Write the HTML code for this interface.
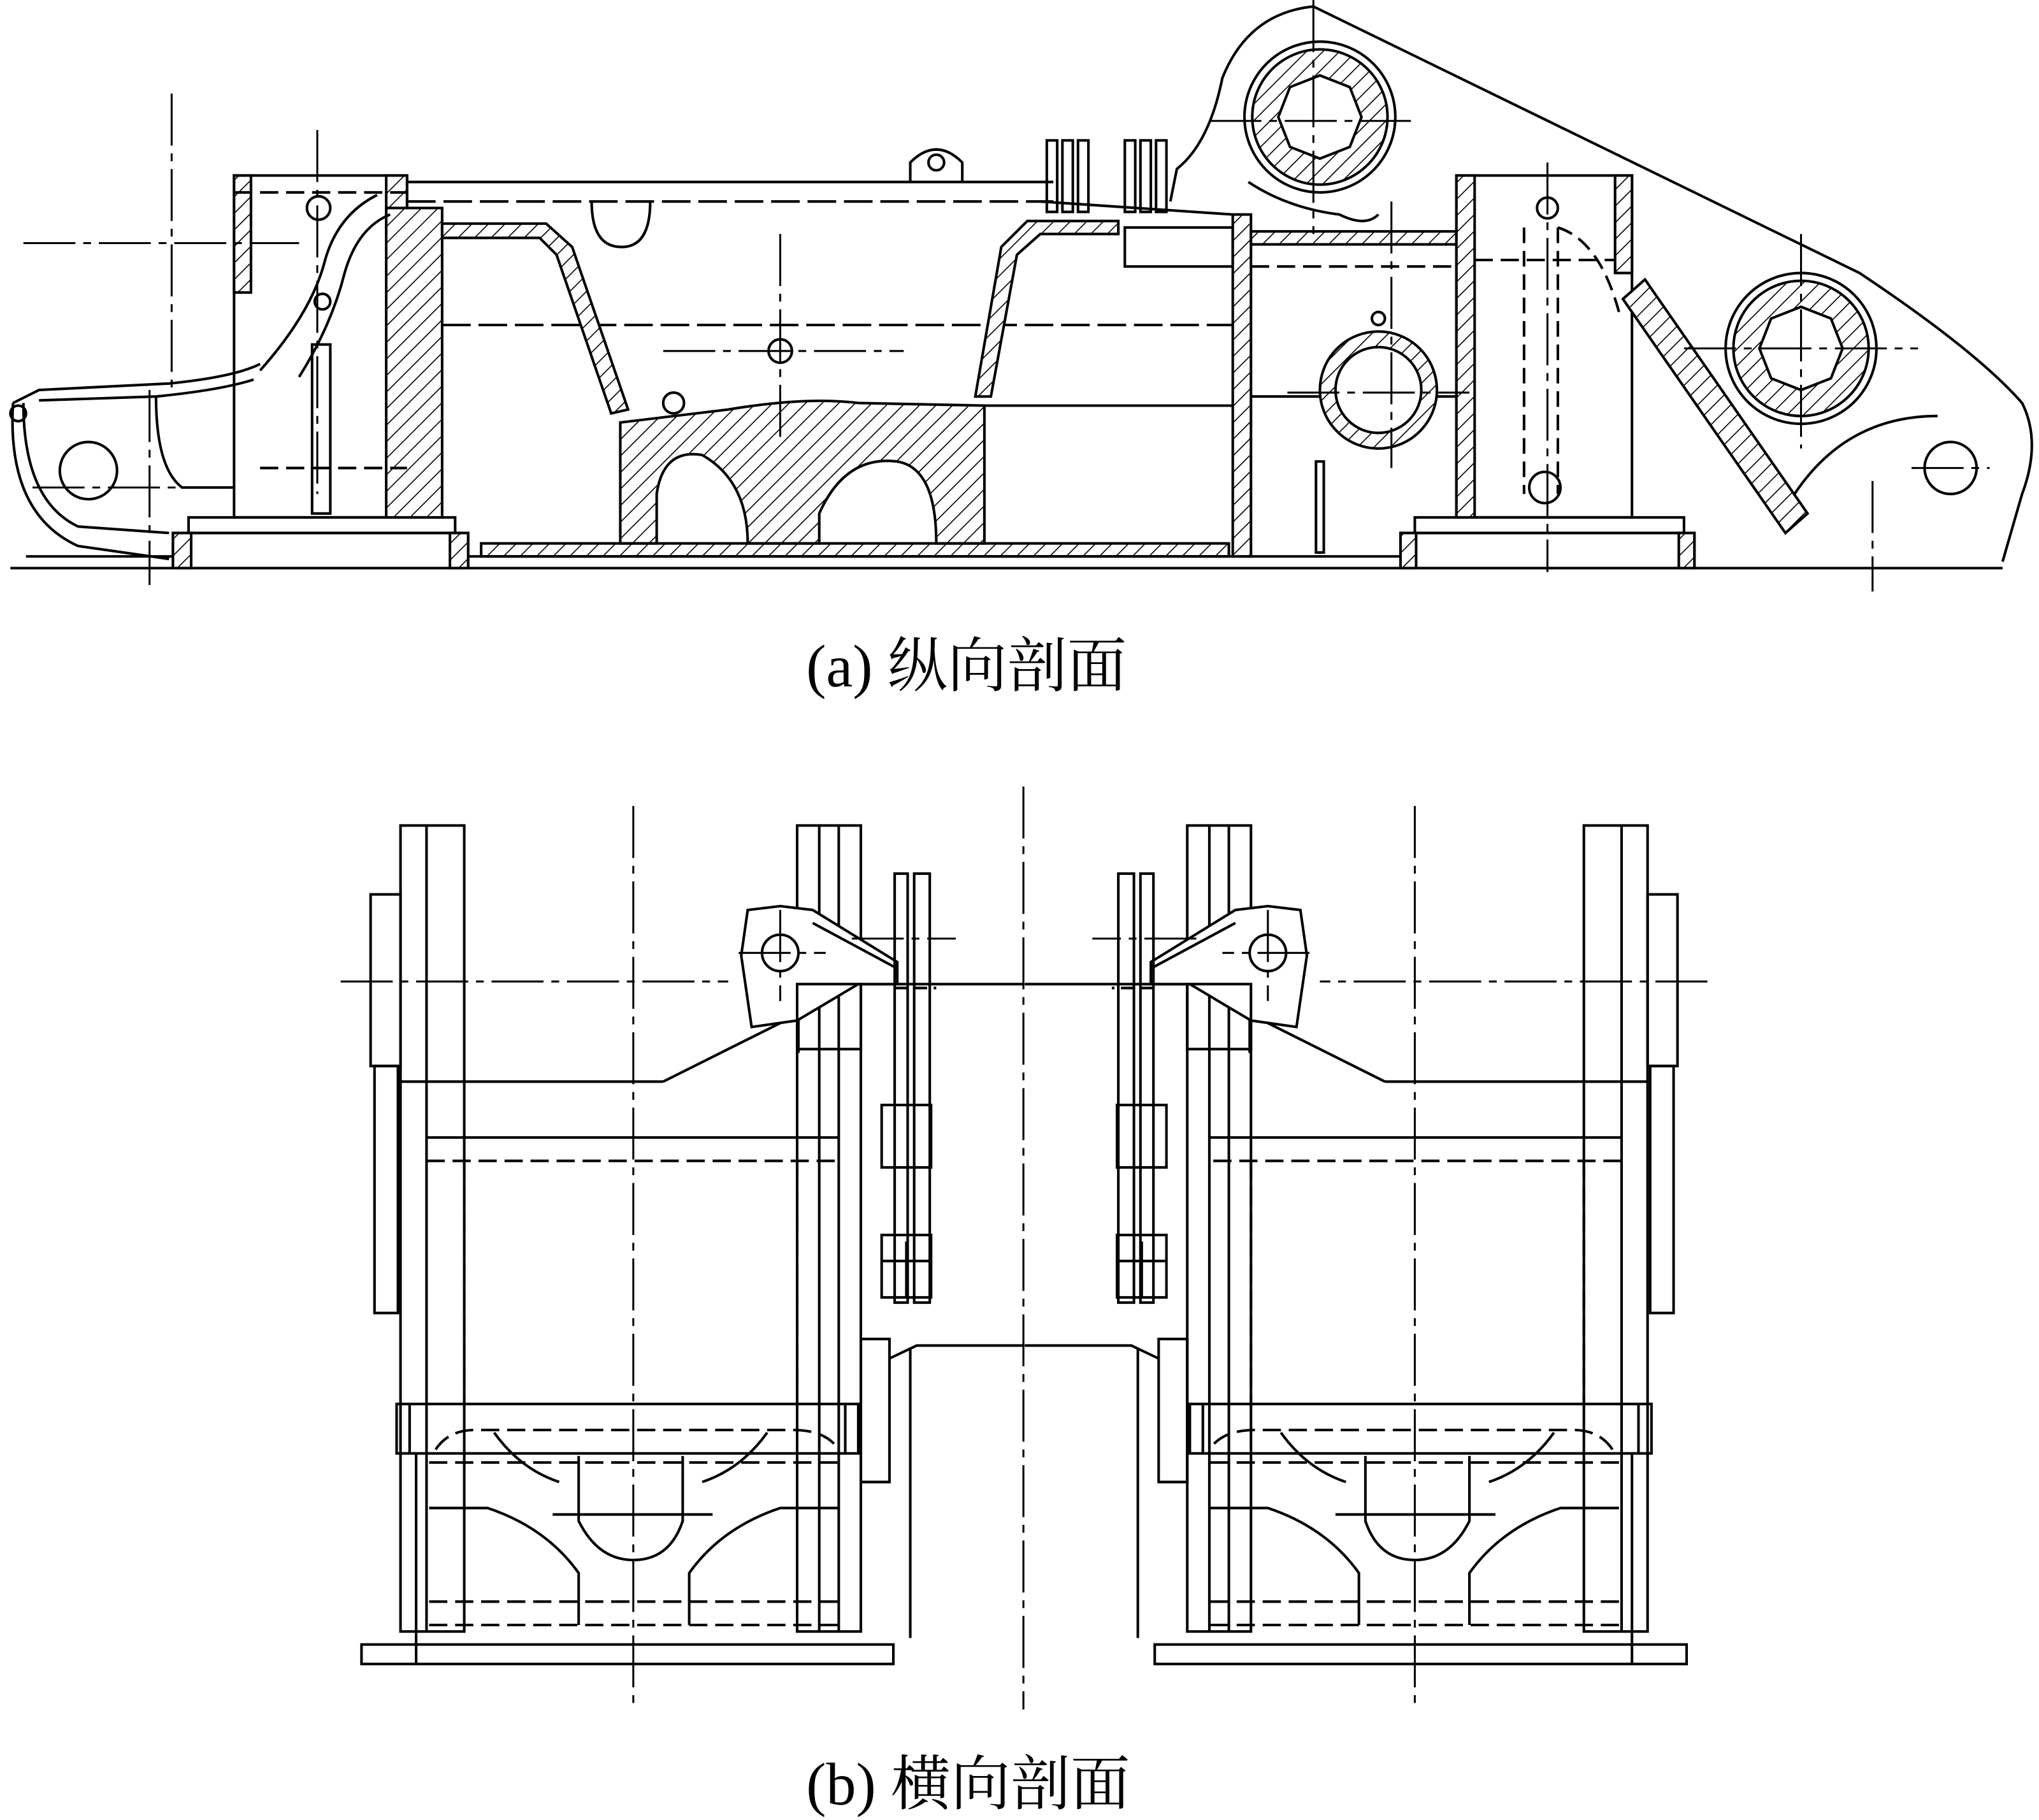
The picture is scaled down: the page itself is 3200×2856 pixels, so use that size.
<!DOCTYPE html>
<html><head><meta charset="utf-8">
<style>
html,body{margin:0;padding:0;background:#fff;}
svg{display:block;width:3200px;height:2856px;}
text{font-family:"Liberation Serif","Noto Serif CJK SC","Noto Sans CJK SC",serif;fill:#000;}
</style></head>
<body>
<svg viewBox="0 0 1568 1400" preserveAspectRatio="none" xmlns="http://www.w3.org/2000/svg">
<defs>
<pattern id="h" width="9" height="9" patternUnits="userSpaceOnUse" patternTransform="rotate(45)">
<rect width="9" height="9" fill="#fff"/><line x1="0" y1="0" x2="0" y2="9" stroke="#000" stroke-width="1.6"/>
</pattern>
</defs>
<g fill="none" stroke="#000" stroke-width="2">
<!-- ===== (a) ===== -->
<!-- base -->
<line x1="8" y1="437" x2="1540" y2="437"/>
<line x1="20" y1="428" x2="135" y2="428"/>
<rect x="133" y="410" width="227" height="27"/>
<rect x="145" y="398" width="205" height="12"/>
<rect x="133" y="410" width="14" height="27" fill="url(#h)"/>
<rect x="346" y="410" width="14" height="27" fill="url(#h)"/>
<rect x="370" y="418" width="575" height="10" fill="url(#h)"/>
<line x1="360" y1="428" x2="1077" y2="428"/>
<rect x="1077" y="410" width="226" height="27"/>
<rect x="1088" y="398" width="207" height="12"/>
<rect x="1077" y="410" width="12" height="27" fill="url(#h)"/>
<rect x="1291" y="410" width="12" height="27" fill="url(#h)"/>
<!-- left box -->
<rect x="180" y="135" width="133" height="263"/>
<rect x="180" y="135" width="13" height="90" fill="url(#h)"/>
<rect x="297" y="135" width="16" height="45" fill="url(#h)"/>
<rect x="297" y="160" width="43" height="238" fill="url(#h)"/>
<line x1="180" y1="148" x2="313" y2="148" stroke-dasharray="14 6"/>
<line x1="200" y1="360" x2="313" y2="360" stroke-dasharray="14 6"/>
<!-- top beams -->
<line x1="313" y1="140" x2="810" y2="140"/>
<line x1="313" y1="155" x2="810" y2="155" stroke-dasharray="22 6"/>
<line x1="340" y1="250" x2="948" y2="250" stroke-dasharray="22 6"/>
<path d="M340 172 L420 172 L440 190 L483 315 L470 318 L428 196 L415 183 L340 183 Z" fill="url(#h)"/>
<path d="M455 155 Q455 190 478 190 Q500 190 500 155"/>
<!-- central casting -->
<path d="M477 325 L560 315 Q620 305 660 310 L757 312 L757 418 L720 418 Q720 360 690 355 Q650 350 630 395 L630 418 L575 418 Q575 370 540 350 Q510 345 505 380 L505 418 L477 418 Z" fill="url(#h)"/>
<line x1="757" y1="312" x2="948" y2="312"/>
<path d="M750 305 L770 190 L790 170 L860 170 L860 180 L800 180 L782 196 L762 305 Z" fill="url(#h)"/>
<line x1="800" y1="155" x2="948" y2="165"/>
<rect x="865" y="175" width="83" height="30"/>
<!-- right wall -->
<rect x="948" y="165" width="14" height="263" fill="url(#h)"/>
<rect x="962" y="178" width="158" height="10" fill="url(#h)"/>
<line x1="962" y1="205" x2="1120" y2="205" stroke-dasharray="14 6"/>
<line x1="962" y1="305" x2="1120" y2="305"/>
<rect x="1012" y="355" width="6" height="70"/>
<!-- right box -->
<rect x="1120" y="135" width="135" height="263"/>
<rect x="1120" y="135" width="14" height="263" fill="url(#h)"/>
<rect x="1242" y="135" width="13" height="75" fill="url(#h)"/>
<line x1="1134" y1="200" x2="1242" y2="200" stroke-dasharray="14 6"/>
<line x1="1172" y1="175" x2="1172" y2="380" stroke-dasharray="12 6"/>
<line x1="1198" y1="175" x2="1198" y2="380" stroke-dasharray="12 6"/>
<path d="M1198 175 Q1230 185 1245 240" stroke-dasharray="12 6"/>
<!-- triangular plate -->
<path d="M1010 5 L1430 210 Q1520 270 1555 310 Q1570 340 1555 380 L1540 432"/>
<path d="M1010 5 Q960 10 940 60 Q930 110 905 130 L900 155"/>
<path d="M960 140 Q990 160 1030 165 Q1050 175 1060 165"/>
<path d="M1248 230 L1265 215 L1390 395 L1373 410 Z" fill="url(#h)"/>
<path d="M1380 380 Q1420 320 1490 320" />
<!-- bearings -->
<circle cx="1015" cy="90" r="58"/>
<circle cx="1015" cy="90" r="52" fill="url(#h)"/>
<polygon points="1015,58 1038,67 1047,90 1038,113 1015,122 992,113 983,90 992,67" fill="#fff"/>
<circle cx="1385" cy="268" r="58"/>
<circle cx="1385" cy="268" r="52" fill="url(#h)"/>
<polygon points="1385,236 1408,245 1417,268 1408,291 1385,300 1362,291 1353,268 1362,245" fill="#fff"/>
<circle cx="1060" cy="300" r="45" fill="url(#h)"/>
<circle cx="1060" cy="300" r="33" fill="#fff"/>
<circle cx="1500" cy="360" r="20"/>
<circle cx="1188" cy="375" r="12"/>
<circle cx="1190" cy="160" r="8"/>
<!-- left nose -->
<path d="M10 310 Q5 395 60 420 L130 430" />
<path d="M18 310 Q18 385 60 405 L130 410" fill="none"/>
<path d="M10 310 L30 300 L130 295 Q180 290 200 280"/>
<path d="M30 308 L120 305 Q170 300 195 292"/>
<path d="M200 285 Q240 240 250 200 Q260 165 290 150"/>
<path d="M230 290 Q255 250 265 210 Q275 175 300 165"/>
<path d="M120 305 Q120 360 140 375 L180 375"/>
<circle cx="68" cy="362" r="22"/>
<circle cx="245" cy="160" r="9"/>
<circle cx="248" cy="232" r="6"/>
<circle cx="14" cy="318" r="6"/>
<rect x="240" y="265" width="14" height="130"/>
<!-- pins top -->
<rect x="805" y="108" width="8" height="55"/><rect x="817" y="108" width="8" height="55"/><rect x="829" y="108" width="8" height="55"/>
<rect x="865" y="108" width="8" height="55"/><rect x="877" y="108" width="8" height="55"/><rect x="889" y="108" width="8" height="55"/>
<path d="M700 140 L700 125 Q720 105 740 125 L740 140"/>
<circle cx="720" cy="125" r="6"/>
<circle cx="600" cy="270" r="9"/>
<circle cx="518" cy="310" r="8"/>
<circle cx="1060" cy="245" r="5"/>
<!-- centre lines a -->
<g stroke-width="1.5" stroke-dasharray="40 6 6 6">
<line x1="18" y1="187" x2="230" y2="187"/>
<line x1="132" y1="72" x2="132" y2="300"/>
<line x1="115" y1="300" x2="115" y2="450"/>
<line x1="25" y1="375" x2="135" y2="375"/>
<line x1="244" y1="100" x2="244" y2="380"/>
<line x1="600" y1="180" x2="600" y2="340"/>
<line x1="510" y1="270" x2="695" y2="270"/>
<line x1="1010" y1="0" x2="1010" y2="180"/>
<line x1="930" y1="93" x2="1085" y2="93"/>
<line x1="1070" y1="155" x2="1070" y2="360"/>
<line x1="990" y1="302" x2="1130" y2="302"/>
<line x1="1190" y1="125" x2="1190" y2="440"/>
<line x1="1295" y1="268" x2="1475" y2="268"/>
<line x1="1385" y1="180" x2="1385" y2="345"/>
<line x1="1470" y1="360" x2="1530" y2="360"/>
<line x1="1440" y1="370" x2="1440" y2="455"/>
</g>
<!-- ===== (b) left half ===== -->
<g id="half">
<rect x="308" y="635" width="49" height="620"/>
<line x1="328" y1="635" x2="328" y2="1255"/>
<rect x="613" y="635" width="49" height="620"/>
<line x1="630" y1="635" x2="630" y2="1255"/>
<line x1="645" y1="635" x2="645" y2="1255"/>
<rect x="285" y="688" width="23" height="132"/>
<rect x="288" y="820" width="18" height="190"/>
<line x1="308" y1="832" x2="510" y2="832"/>
<line x1="510" y1="832" x2="660" y2="757"/>
<line x1="660" y1="757" x2="787" y2="757"/>
<line x1="328" y1="875" x2="645" y2="875"/>
<line x1="328" y1="893" x2="645" y2="893" stroke-dasharray="14 6"/>
<line x1="357" y1="893" x2="357" y2="1080" stroke-dasharray="14 6"/>
<line x1="613" y1="893" x2="613" y2="1080" stroke-dasharray="14 6"/>
<rect x="305" y="1080" width="355" height="38"/>
<line x1="315" y1="1080" x2="315" y2="1118"/>
<line x1="650" y1="1080" x2="650" y2="1118"/>
<line x1="320" y1="1118" x2="320" y2="1265"/>
<line x1="330" y1="1250" x2="645" y2="1250" stroke-dasharray="14 6"/>
<line x1="330" y1="1232" x2="645" y2="1232" stroke-dasharray="14 6"/>
<line x1="330" y1="1125" x2="645" y2="1125" stroke-dasharray="14 6"/>
<path d="M335 1115 Q345 1100 365 1100 L610 1100 Q635 1100 645 1115" stroke-dasharray="14 6"/>
<path d="M380 1102 Q400 1130 430 1140" /><path d="M590 1102 Q570 1130 540 1140"/>
<path d="M330 1160 L375 1160 Q420 1175 445 1210 L445 1250"/>
<path d="M645 1160 L600 1160 Q555 1175 530 1210 L530 1250"/>
<path d="M445 1120 L445 1170 Q460 1200 487 1200 Q515 1200 525 1170 L525 1120"/>
<line x1="425" y1="1165" x2="548" y2="1165"/>
<rect x="278" y="1265" width="409" height="15"/>
<line x1="320" y1="1265" x2="320" y2="1280"/>
<!-- ear -->
<path d="M575 700 L600 697 L625 700 L690 740 L690 757 L660 757 L613 785 L578 790 L570 735 Z" fill="#fff"/>
<circle cx="600" cy="733" r="14"/>
<line x1="625" y1="710" x2="690" y2="745"/>
<line x1="614" y1="785" x2="614" y2="810"/>
<rect x="613" y="757" width="49" height="50" fill="none"/>
<!-- rods -->
<rect x="688" y="672" width="10" height="330"/>
<rect x="703" y="672" width="12" height="330"/>
<line x1="688" y1="760" x2="720" y2="760" stroke-dasharray="10 5"/>
<rect x="678" y="850" width="38" height="48"/>
<rect x="678" y="950" width="38" height="48"/>
<line x1="697" y1="955" x2="697" y2="998"/>
<line x1="678" y1="970" x2="716" y2="970"/>
<!-- neck -->
<rect x="662" y="1030" width="22" height="110"/>
<path d="M684 1045 L705 1035 L787 1035"/>
<line x1="700" y1="1038" x2="700" y2="1260"/>
<line x1="662" y1="1140" x2="684" y2="1140"/>
<g stroke-width="1.5" stroke-dasharray="40 6 6 6">
<line x1="487" y1="620" x2="487" y2="1310"/>
<line x1="262" y1="755" x2="560" y2="755"/>
<line x1="568" y1="733" x2="635" y2="733"/>
<line x1="600" y1="700" x2="600" y2="770"/>
<line x1="655" y1="722" x2="735" y2="722"/>
</g>
</g>
<use href="#half" transform="translate(1575,0) scale(-1,1)"/>
<line x1="787" y1="605" x2="787" y2="1315" stroke-width="1.5" stroke-dasharray="40 6 6 6"/>
</g>
<text x="620" y="528" font-size="46">(a)  纵向剖面</text>
<text x="620" y="1388" font-size="46">(b)  横向剖面</text>
</svg>
</body></html>
